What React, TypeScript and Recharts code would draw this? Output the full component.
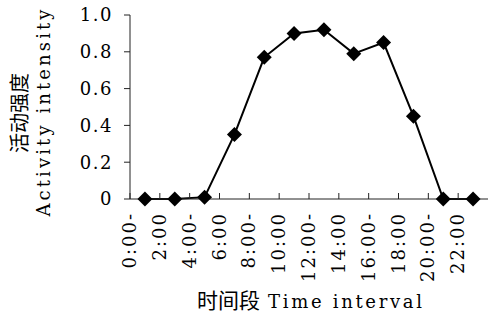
import { LineChart, Line, XAxis, YAxis, Label } from "recharts"

// hour midpoints of each 2-hour interval
const hours = [1, 3, 5, 7, 9, 11, 13, 15, 17, 19, 21, 23]
const intensity = [0, 0, 0.01, 0.35, 0.77, 0.9, 0.92, 0.79, 0.85, 0.45, 0, 0]

const tickHours = [0, 2, 4, 6, 8, 10, 12, 14, 16, 18, 20, 22]
const tickLabels = ["0:00-", "2:00", "4:00-", "6:00", "8:00-", "10:00", "12:00-", "14:00", "16:00-", "18:00", "20:00-", "22:00"]
const yTicks = [0, 0.2, 0.4, 0.6, 0.8, 1.0]

const data = hours.map((h, i) => ({ hour: h, value: intensity[i] }))

const LATIN = "'DejaVu Serif', serif"
const CJK = "'Noto Sans CJK SC', sans-serif"
const AXIS = "#222"

function TimeTick({ x, y, index }: any) {
    const tx = x + 6
    const ty = y + 13
    return (
        <g>
            <line x1={x} y1={y - 6} x2={x} y2={y} stroke={AXIS} strokeWidth={1} />
            <text x={tx} y={ty} transform={`rotate(-90, ${tx}, ${ty})`} textAnchor="end"
                fontFamily={LATIN} fontSize={18} letterSpacing={2} fill="#000">
                {tickLabels[index]}
            </text>
        </g>
    )
}

function Diamond({ cx, cy }: any) {
    if (cx == null || cy == null) return null
    const r = 7.5
    return <path d={`M${cx},${cy - r}L${cx + r},${cy}L${cx},${cy + r}L${cx - r},${cy}Z`} fill="#000" />
}

function YTitle() {
    return (
        <g fill="#000">
            <text x={27} y={113} transform="rotate(-90, 27, 113)" textAnchor="middle" fontSize={20}
                fontFamily={CJK}>活动强度</text>
            <text x={50} y={113} transform="rotate(-90, 50, 113)" textAnchor="middle" fontSize={18}
                fontFamily={LATIN} textLength={207} lengthAdjust="spacing">Activity intensity</text>
        </g>
    )
}

function XTitle() {
    return (
        <g fill="#000">
            <text x={197} y={308} fontFamily={CJK} fontSize={21}>时间段</text>
            <text x={268} y={308} fontFamily={LATIN} fontSize={18} textLength={154} lengthAdjust="spacing">Time interval</text>
        </g>
    )
}

export default function App() {
    return (
        <div style={{ position: "absolute", left: 0, top: 0, background: "#fff" }}>
            <LineChart width={488} height={315} data={data} margin={{ top: 15, right: 0, bottom: 0, left: 0 }}>
                <XAxis
                    dataKey="hour"
                    type="number"
                    domain={[0, 24]}
                    ticks={tickHours}
                    interval={0}
                    height={116}
                    tickSize={0}
                    tickMargin={0}
                    tickLine={false}
                    axisLine={{ stroke: AXIS, strokeWidth: 1 }}
                    tick={<TimeTick />}
                >
                    <Label content={<XTitle />} />
                </XAxis>
                <YAxis
                    type="number"
                    domain={[0, 1]}
                    ticks={yTicks}
                    width={130}
                    tickSize={6}
                    tickMargin={11}
                    tickLine={{ stroke: AXIS }}
                    axisLine={{ stroke: AXIS, strokeWidth: 1 }}
                    tickFormatter={(v: number) => (v === 0 ? "0" : v.toFixed(1))}
                    tick={{ fill: "#000", fontFamily: LATIN, fontSize: 18, letterSpacing: 1.5 }}
                >
                    <Label content={<YTitle />} />
                </YAxis>
                <Line
                    dataKey="value"
                    stroke="#000"
                    strokeWidth={2}
                    dot={<Diamond />}
                    activeDot={false}
                    isAnimationActive={false}
                />
            </LineChart>
        </div>
    )
}
